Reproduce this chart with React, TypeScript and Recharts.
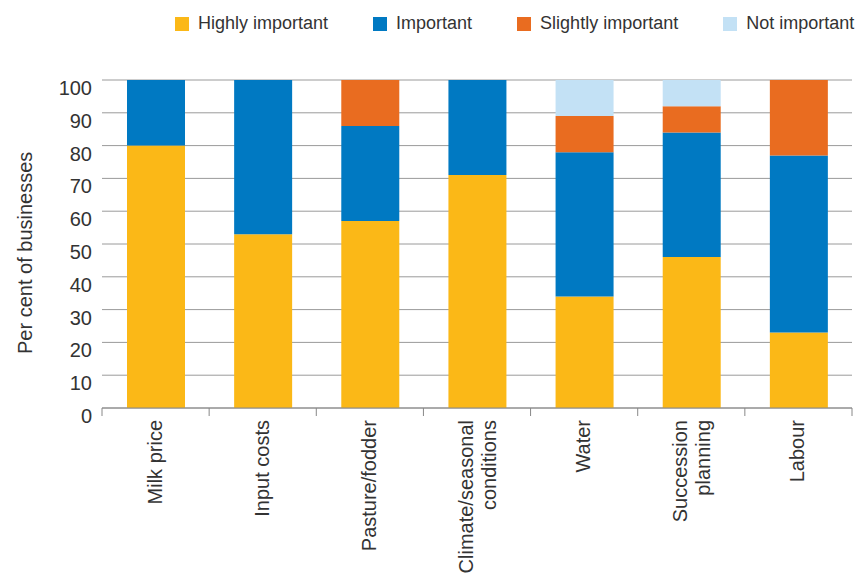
import { BarChart, Bar, XAxis, YAxis, CartesianGrid } from "recharts";

// factors rated by dairy businesses
const categories = [
  "Milk price",
  "Input costs",
  "Pasture/fodder",
  "Climate/seasonal\nconditions",
  "Water",
  "Succession\nplanning",
  "Labour",
];
const highlyImportant = [80, 53, 57, 71, 34, 46, 23];
const important = [20, 47, 29, 29, 44, 38, 54];
const slightlyImportant = [0, 0, 14, 0, 11, 8, 23];
const notImportant = [0, 0, 0, 0, 11, 8, 0];
const yTicks = [0, 10, 20, 30, 40, 50, 60, 70, 80, 90, 100];

const series = [
  { key: "highly", name: "Highly important", color: "#FBB817" },
  { key: "important", name: "Important", color: "#0079C2" },
  { key: "slightly", name: "Slightly important", color: "#E96C20" },
  { key: "not", name: "Not important", color: "#C3E1F5" },
];

const data = categories.map((name, i) => ({
  name,
  highly: highlyImportant[i],
  important: important[i],
  slightly: slightlyImportant[i],
  not: notImportant[i],
}));

const FONT = "'Liberation Sans', Arial, Helvetica, sans-serif";
const TEXT = "#333333";
const PLOT_W = 750;
const BAND = PLOT_W / categories.length;

function YTick(props: any) {
  const { x, y, payload } = props;
  return (
    <text x={x} y={y + 15} textAnchor="end" fontSize={20} fill={TEXT} fontFamily={FONT}>
      {payload.value}
    </text>
  );
}

function XTick(props: any) {
  const { x, y, payload, index } = props;
  const lines = String(payload.value).split("\n");
  const lineH = 23;
  const first = lines.length === 1 ? 6 : -4;
  return (
    <g>
      <line x1={x - BAND / 2} x2={x - BAND / 2} y1={y} y2={y + 8} stroke="#888" />
      {index === categories.length - 1 && (
        <line x1={x + BAND / 2} x2={x + BAND / 2} y1={y} y2={y + 8} stroke="#888" />
      )}
      {lines.map((ln, i) => (
        <text
          key={i}
          transform={`translate(${x + first + i * lineH}, ${y + 12}) rotate(-90)`}
          textAnchor="end"
          fontSize={20}
          fill={TEXT}
          fontFamily={FONT}
        >
          {ln}
        </text>
      ))}
    </g>
  );
}

export default function App() {
  return (
    <div style={{ position: "absolute", left: 0, top: 0, width: 866, height: 575, background: "#fff" }}>
      <div
        style={{
          position: "absolute",
          left: 175,
          top: 13,
          display: "flex",
          alignItems: "center",
          whiteSpace: "nowrap",
          width: 700,
          fontFamily: FONT,
          fontSize: 18,
          color: TEXT,
        }}
      >
        {series.map((s) => (
          <div key={s.key} style={{ display: "flex", alignItems: "center", marginRight: 45, flexShrink: 0 }}>
            <span style={{ width: 14, height: 14, background: s.color, display: "inline-block", marginRight: 9 }} />
            <span>{s.name}</span>
          </div>
        ))}
      </div>
      <BarChart
        width={866}
        height={575}
        data={data}
        margin={{ top: 80, right: 14, bottom: 0, left: 0 }}
        barCategoryGap={0}
      >
        <CartesianGrid vertical={false} stroke="#9a9a9a" />
        <YAxis
          domain={[0, 100]}
          ticks={yTicks}
          width={102}
          axisLine={false}
          tickLine={false}
          tickSize={0}
          tickMargin={10}
          tick={<YTick />}
          interval={0}
          label={{
            value: "Per cent of businesses",
            angle: -90,
            position: "insideLeft",
            dx: 20,
            dy: 110,
            style: { fontSize: 20, fill: TEXT, fontFamily: FONT },
          }}
        />
        <XAxis
          dataKey="name"
          height={167}
          axisLine={{ stroke: "#888" }}
          tickLine={false}
          tickSize={0}
          tickMargin={0}
          interval={0}
          tick={<XTick />}
        />
        {series.map((s) => (
          <Bar key={s.key} dataKey={s.key} name={s.name} stackId="a" fill={s.color} barSize={58} isAnimationActive={false} />
        ))}
      </BarChart>
    </div>
  );
}
